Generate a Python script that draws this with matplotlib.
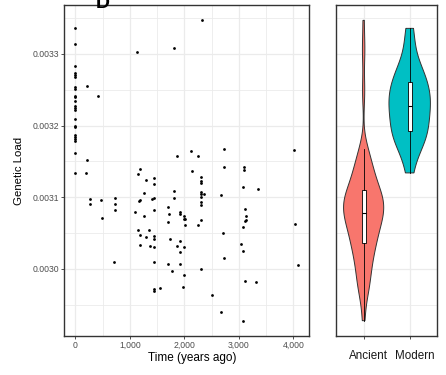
import numpy as np
import matplotlib
matplotlib.use("Agg")
import matplotlib.pyplot as plt
import matplotlib.transforms as mtransforms

plt.rcParams['font.family'] = ['Liberation Sans', 'DejaVu Sans']

# modern samples (time = 0): genetic load, x 1e-3
modern_loads = [3.3357, 3.3139, 3.2832, 3.2735, 3.2711, 3.2683, 3.2539, 3.2512, 3.2414,
                3.2400, 3.2338, 3.2279, 3.2246, 3.2223, 3.2093, 3.1999, 3.1976, 3.1874,
                3.1842, 3.1814, 3.1780, 3.1619, 3.1339]
# ancient samples: age (years ago) and genetic load, x 1e-3
ancient_years = [208, 416, 214, 190, 1135, 1816, 2313, 263, 263, 466, 484, 729, 729, 729, 711,
                 1087, 1142, 1184, 1289, 1442, 1442, 1263, 1160, 1190, 1396, 1436, 1263, 1442,
                 1142, 1184, 1289, 1356, 1442, 1442, 1184, 1372, 1442, 1442, 1442, 1442, 1547,
                 1700, 1718, 1691, 1912, 1912, 1728, 1917, 1866, 1912, 1989, 1694, 1915, 1764,
                 1871, 2124, 2252, 2726, 2142, 2295, 2295, 2295, 2717, 1814, 1814, 2299, 2299,
                 2363, 2671, 2295, 2295, 2295, 2000, 1989, 2017, 2007, 2247, 2295, 2713, 2304,
                 1995, 1976, 2498, 2673, 3082, 2719, 3085, 3085, 3082, 3349, 4015, 3115, 3127,
                 3127, 3115, 3076, 4021, 3032, 3082, 4076, 3115, 3321]
ancient_loads = [3.2558, 3.2408, 3.1521, 3.1339, 3.3022, 3.3084, 3.3469, 3.0977, 3.0907, 3.0963,
                 3.0712, 3.0985, 3.0904, 3.0818, 3.0092, 3.0790, 3.1326, 3.1395, 3.1236, 3.1264,
                 3.1180, 3.1060, 3.0949, 3.0963, 3.0974, 3.0985, 3.0740, 3.0827, 3.0548, 3.0472,
                 3.0441, 3.0544, 3.0455, 3.0416, 3.0336, 3.0321, 3.0304, 3.0098, 2.9718, 2.9697,
                 2.9736, 3.0862, 3.0767, 3.0649, 3.0800, 3.0772, 3.0420, 3.0388, 3.0325, 3.0239,
                 3.0301, 3.0070, 3.0071, 2.9967, 3.1571, 3.1648, 3.1581, 3.1674, 3.1372, 3.1281,
                 3.1225, 3.1201, 3.1418, 3.1090, 3.0985, 3.1069, 3.1048, 3.1041, 3.1034, 3.0998,
                 3.0939, 3.0893, 3.0741, 3.0695, 3.0692, 3.0611, 3.0611, 3.0678, 3.0500, 3.0000,
                 2.9916, 2.9749, 2.9632, 2.9401, 2.9276, 3.0153, 3.1420, 3.1374, 3.1146, 3.1109,
                 3.1660, 3.0834, 3.0740, 3.0688, 3.0670, 3.0583, 3.0629, 3.0349, 3.0253, 3.0057,
                 2.9830, 2.9823]

groups = ["Ancient", "Modern"]
colors = ["#F8766D", "#00BFC4"]

ancient = np.array(ancient_loads) * 1e-3
modern = np.array(modern_loads) * 1e-3
years = np.concatenate([np.zeros(len(modern)), ancient_years])
loads = np.concatenate([modern, ancient])

span = loads.max() - loads.min()
ylim = (loads.min() - 0.05 * span, loads.max() + 0.05 * span)
xspan = years.max() - years.min()
xlim = (years.min() - 0.05 * xspan, years.max() + 0.05 * xspan)

fig = plt.figure(figsize=(4.46, 3.75), dpi=100)
ax = fig.add_axes([0.1442, 0.1048, 0.548, 0.881])
ax2 = fig.add_axes([0.7534, 0.1048, 0.2271, 0.881])

grid_c = "#EBEBEB"
for a in (ax, ax2):
    a.set_facecolor("white")
    for s in a.spines.values():
        s.set_color("#333333")
        s.set_linewidth(1.0)
    a.set_ylim(*ylim)
    a.set_yticks([0.0030, 0.0031, 0.0032, 0.0033])
    a.set_yticks([0.00295, 0.00305, 0.00315, 0.00325, 0.00335], minor=True)
    a.grid(True, which="major", color=grid_c, lw=0.9, zorder=0)
    a.grid(True, which="minor", color=grid_c, lw=0.6, zorder=0)
    a.set_axisbelow(True)
    a.tick_params(which="minor", length=0)
    a.tick_params(which="major", length=2.4, width=0.6, color="#333333", pad=1.5)

# scatter panel
ax.scatter(years, loads, s=4, c="black", linewidths=0, zorder=3)
ax.set_xlim(*xlim)
ax.set_xticks([0, 1000, 2000, 3000, 4000])
ax.set_xticklabels(["0", "1,000", "2,000", "3,000", "4,000"])
ax.set_xticks([500, 1500, 2500, 3500], minor=True)
ax.set_yticklabels(["0.0030", "0.0031", "0.0032", "0.0033"])
ax.tick_params(labelsize=6.2, labelcolor="#4D4D4D")
ax.set_xlabel("Time (years ago)", fontsize=8.5, labelpad=1)
ax.xaxis.set_label_coords(0.523, -0.048)
ax.set_ylabel("Genetic Load", fontsize=8.2, labelpad=6)


def nrd0(x):
    q75, q25 = np.percentile(x, [75, 25])
    lo = min(np.std(x, ddof=1), (q75 - q25) / 1.34)
    return 0.9 * lo * len(x) ** -0.2


def kde(x, grid):
    bw = nrd0(x)
    z = (grid[:, None] - x[None, :]) / bw
    return np.exp(-0.5 * z ** 2).sum(axis=1) / (len(x) * bw * np.sqrt(2 * np.pi))


data = [ancient, modern]
grids = [np.linspace(d.min(), d.max(), 512) for d in data]
dens = [kde(d, g) for d, g in zip(data, grids)]
dmax = max(d.max() for d in dens)
for i, (g, d) in enumerate(zip(grids, dens)):
    pos = i + 1
    hw = d / dmax * 0.45
    xs = np.concatenate([pos - hw, (pos + hw)[::-1]])
    ys = np.concatenate([g, g[::-1]])
    ax2.fill(xs, ys, facecolor=colors[i], edgecolor="#333333", lw=0.7, zorder=2)

ax2.boxplot(data, positions=[1, 2], widths=0.09, whis=1.5, showfliers=False,
            showcaps=False, patch_artist=True, manage_ticks=False, zorder=3,
            boxprops=dict(facecolor="white", edgecolor="black", lw=0.6),
            medianprops=dict(color="black", lw=0.8),
            whiskerprops=dict(color="black", lw=0.6))
ax2.set_xlim(0.4, 2.6)
ax2.set_xticks([1, 2])
ax2.set_xticklabels(groups)
ax2.grid(True, which="major", axis="x", color=grid_c, lw=0.9)
ax2.tick_params(axis="y", which="both", length=0, labelleft=False)
ax2.tick_params(axis="x", labelsize=8.4, labelcolor="#1A1A1A", pad=8)
shift = mtransforms.ScaledTranslation(5 / 100, 0, fig.dpi_scale_trans)
for lab in ax2.get_xticklabels():
    lab.set_transform(lab.get_transform() + shift)

fig.text(0.215, 0.979, "D", fontsize=14, fontweight="bold", va="baseline", ha="left")

fig.savefig("out.png", dpi=100)
